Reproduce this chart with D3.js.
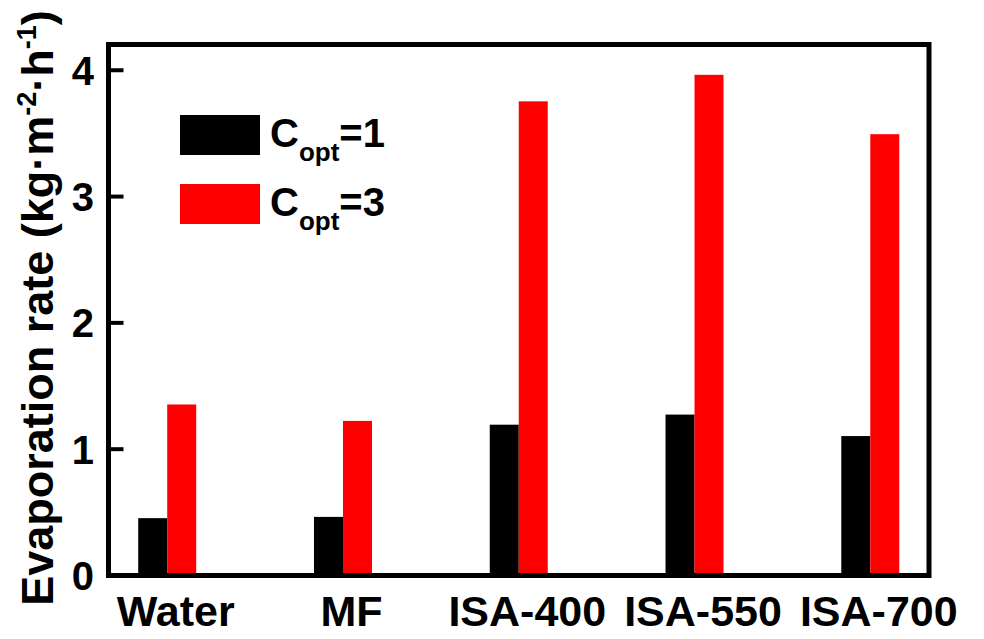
<!DOCTYPE html>
<html>
<head>
<meta charset="utf-8">
<script src="https://cdn.jsdelivr.net/npm/d3@7"></script>
<style>
  html, body { margin: 0; padding: 0; background: #fff; }
  svg { display: block; font-family: "Liberation Sans", Arial, sans-serif; font-weight: bold; }
</style>
</head>
<body>
<svg id="chart" width="984" height="639"></svg>
<script>
const categories = ["Water", "MF", "ISA-400", "ISA-550", "ISA-700"];
const copt1 = [0.45, 0.46, 1.19, 1.27, 1.10];
const copt3 = [1.35, 1.22, 3.75, 3.96, 3.49];
const yTicks = [0, 1, 2, 3, 4];
const seriesNames = ["1", "3"];
const seriesColors = ["#000000", "#ff0000"];

const svg = d3.select("#chart");
const L = 108.5, R = 929, T = 44.5, B = 575;

const x = d3.scalePoint().domain(categories).range([L, R]).padding(0.334);
const y = d3.scaleLinear().domain([0, 4.2]).range([B, T]);
const barW = x.step() * 0.165;

const series = [copt1, copt3];
series.forEach((vals, si) => {
  svg.append("g").selectAll("rect")
    .data(categories.map((c, i) => ({ c, v: vals[i] })))
    .join("rect")
    .attr("x", d => x(d.c) + (si === 0 ? -barW : 0))
    .attr("y", d => y(d.v))
    .attr("width", barW)
    .attr("height", d => y(0) - y(d.v))
    .attr("fill", seriesColors[si]);
});

// frame
svg.append("rect")
  .attr("x", L).attr("y", T)
  .attr("width", R - L).attr("height", B + 0.5 - T)
  .attr("fill", "none").attr("stroke", "#000").attr("stroke-width", 5);

// y axis
const yAxis = d3.axisLeft(y).tickValues(yTicks).tickFormat(d3.format("d"))
  .tickSizeInner(-15).tickSizeOuter(0).tickPadding(14.5);
const gy = svg.append("g").attr("transform", `translate(${L},0)`).call(yAxis);
gy.select(".domain").remove();
gy.selectAll(".tick line").attr("stroke", "#000").attr("stroke-width", 4);
gy.selectAll(".tick text")
  .attr("font-size", 40).attr("font-weight", "bold")
  .attr("font-family", "Liberation Sans, Arial, sans-serif")
  .attr("fill", "#000").attr("dy", "0.36em");

// x axis labels
const xAxis = d3.axisBottom(x).tickSize(0).tickPadding(0);
const gx = svg.append("g").attr("transform", `translate(8,${B})`).call(xAxis);
gx.select(".domain").remove();
gx.selectAll(".tick text")
  .attr("font-size", 43).attr("font-weight", "bold")
  .attr("font-family", "Liberation Sans, Arial, sans-serif")
  .attr("fill", "#000").attr("y", 51).attr("dy", 0);

// y title
const yt = svg.append("text")
  .attr("transform", `translate(53,308) rotate(-90)`)
  .attr("text-anchor", "middle")
  .attr("font-size", 45).attr("fill", "#000");
yt.append("tspan").text("Evaporation rate (kg·m");
yt.append("tspan").attr("font-size", 27).attr("dy", -17).text("-2");
yt.append("tspan").attr("dy", 17).text("·h");
yt.append("tspan").attr("font-size", 27).attr("dy", -17).text("-1");
yt.append("tspan").attr("dy", 17).text(")");

// legend
seriesNames.forEach((name, i) => {
  const g = svg.append("g").attr("transform", `translate(180,${115 + i * 69})`);
  g.append("rect").attr("width", 80).attr("height", 40).attr("fill", seriesColors[i]);
  const t = g.append("text").attr("x", 90).attr("y", 32).attr("font-size", 40).attr("fill", "#000");
  t.append("tspan").text("C");
  t.append("tspan").attr("font-size", 26).attr("dy", 14).text("opt");
  t.append("tspan").attr("dy", -14).text("=" + name);
});
</script>
</body>
</html>
